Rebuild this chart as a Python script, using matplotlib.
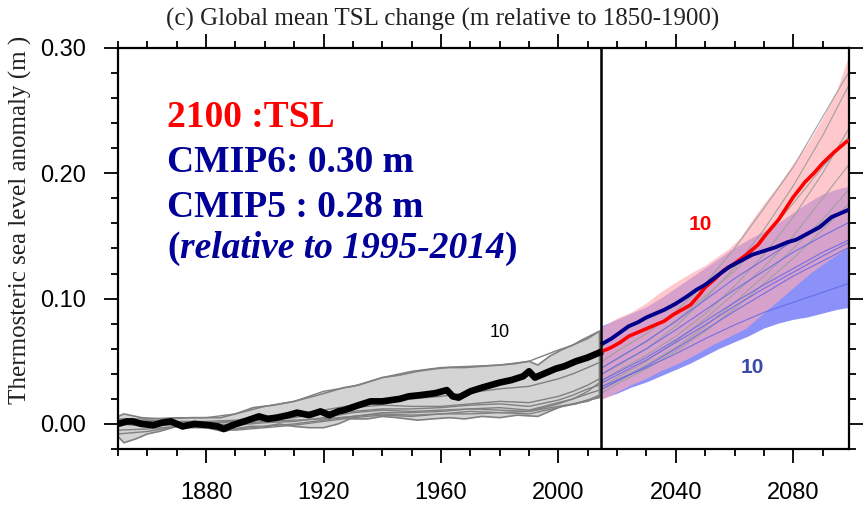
import matplotlib
matplotlib.use("Agg")
import matplotlib.pyplot as plt

# ---- historical period (1850-2014) ----
hist_mean_years = [1850, 1853, 1855, 1858, 1862, 1865, 1868, 1872, 1876, 1881, 1884, 1886,
                   1889, 1893, 1898, 1901, 1904, 1908, 1911, 1915, 1919, 1922, 1925, 1927,
                   1932, 1936, 1940, 1943, 1946, 1949, 1953, 1958, 1962, 1964, 1966, 1970,
                   1974, 1977, 1980, 1984, 1988, 1990, 1992, 1995, 1999, 2002, 2006, 2010, 2014]
hist_mean = [0.000, 0.002, 0.002, 0.000, -0.001, 0.001, 0.002, -0.002, 0.000, -0.001, -0.002, -0.004,
             -0.001, 0.002, 0.006, 0.004, 0.005, 0.007, 0.009, 0.007, 0.010, 0.007, 0.010, 0.011,
             0.015, 0.018, 0.018, 0.019, 0.020, 0.022, 0.023, 0.0245, 0.027, 0.022, 0.021, 0.026,
             0.029, 0.031, 0.033, 0.035, 0.038, 0.042, 0.037, 0.040, 0.044, 0.046, 0.050, 0.053, 0.057]

hist_hi_years = [1850, 1852, 1858, 1865, 1875, 1885, 1890, 1896, 1903, 1910, 1918, 1927, 1932,
                 1940, 1946, 1952, 1958, 1963, 1968, 1974, 1980, 1985, 1990, 1993, 1997, 2001,
                 2005, 2008, 2014]
hist_hi = [0.006, 0.008, 0.005, 0.004, 0.005, 0.005, 0.008, 0.013, 0.015, 0.018, 0.023, 0.029, 0.031,
           0.037, 0.039, 0.042, 0.044, 0.045, 0.045, 0.046, 0.047, 0.048, 0.050, 0.047, 0.054, 0.059,
           0.063, 0.067, 0.074]

hist_lo_years = [1850, 1852, 1856, 1860, 1864, 1870, 1875, 1880, 1886, 1890, 1895, 1900, 1905,
                 1910, 1915, 1920, 1925, 1929, 1935, 1940, 1945, 1952, 1957, 1963, 1968, 1974,
                 1980, 1986, 1993, 1997, 2001, 2006, 2010, 2014]
hist_lo = [-0.010, -0.015, -0.012, -0.008, -0.006, -0.002, -0.003, -0.003, -0.006, -0.004, -0.002,
           -0.002, 0.000, -0.002, -0.003, -0.003, 0.000, 0.004, 0.004, 0.006, 0.005, 0.003, 0.004,
           0.005, 0.004, 0.006, 0.005, 0.007, 0.006, 0.010, 0.014, 0.016, 0.019, 0.021]

hist_model_years = [1850, 1860, 1870, 1880, 1890, 1900, 1910, 1920, 1930, 1940, 1950, 1960,
                    1970, 1980, 1990, 2000, 2005, 2010, 2014]
hist_models = [
    [0.000, -0.002, 0.000, -0.001, 0.000, 0.002, 0.003, 0.004, 0.006, 0.008, 0.007, 0.008, 0.008, 0.009, 0.010, 0.014, 0.016, 0.018, 0.022],
    [0.000, 0.001, 0.001, 0.000, -0.001, 0.001, 0.002, 0.005, 0.009, 0.011, 0.010, 0.011, 0.012, 0.013, 0.011, 0.017, 0.020, 0.024, 0.027],
    [0.002, 0.000, -0.001, 0.001, 0.002, 0.004, 0.006, 0.008, 0.010, 0.012, 0.012, 0.013, 0.015, 0.016, 0.014, 0.019, 0.023, 0.028, 0.031],
    [-0.005, -0.004, -0.002, -0.002, -0.004, -0.002, 0.000, 0.003, 0.006, 0.009, 0.009, 0.010, 0.012, 0.011, 0.010, 0.016, 0.020, 0.026, 0.033],
    [0.003, 0.002, 0.001, 0.000, 0.002, 0.003, 0.005, 0.009, 0.013, 0.015, 0.014, 0.014, 0.016, 0.018, 0.017, 0.022, 0.026, 0.031, 0.036],
    [0.004, 0.004, 0.005, 0.005, 0.008, 0.014, 0.018, 0.026, 0.030, 0.037, 0.042, 0.045, 0.046, 0.047, 0.050, 0.059, 0.063, 0.068, 0.074],
    [-0.008, -0.006, -0.002, -0.003, -0.005, -0.003, -0.001, 0.002, 0.005, 0.007, 0.006, 0.008, 0.010, 0.009, 0.008, 0.013, 0.016, 0.019, 0.023],
    [0.001, 0.003, 0.002, 0.002, 0.003, 0.006, 0.008, 0.011, 0.015, 0.019, 0.020, 0.022, 0.025, 0.028, 0.030, 0.036, 0.040, 0.045, 0.049],
]

# ---- projections (2015-2100) ----
cmip6_years = [2015, 2018, 2021, 2024, 2027, 2030, 2033, 2036, 2039, 2042, 2045, 2048, 2050, 2053,
               2056, 2060, 2064, 2068, 2071, 2075, 2080, 2084, 2087, 2090, 2094, 2098, 2100]
cmip6_mean = [0.058, 0.061, 0.065, 0.070, 0.073, 0.076, 0.079, 0.082, 0.087, 0.091, 0.095, 0.103, 0.109,
              0.115, 0.122, 0.128, 0.135, 0.143, 0.152, 0.163, 0.181, 0.193, 0.200, 0.208, 0.217, 0.225, 0.227]

cmip5_years = [2015, 2018, 2021, 2024, 2027, 2030, 2033, 2036, 2040, 2044, 2047, 2050, 2054, 2058,
               2062, 2066, 2070, 2074, 2078, 2081, 2085, 2089, 2093, 2096, 2099]
cmip5_mean = [0.064, 0.068, 0.073, 0.078, 0.081, 0.085, 0.088, 0.091, 0.096, 0.102, 0.107, 0.111, 0.118,
              0.125, 0.130, 0.135, 0.138, 0.141, 0.145, 0.147, 0.152, 0.157, 0.165, 0.168, 0.171]

cmip6_hi_years = [2015, 2020, 2025, 2030, 2035, 2041, 2046, 2050, 2053, 2058, 2062, 2066, 2070,
                  2075, 2080, 2085, 2090, 2095, 2099]
cmip6_hi = [0.077, 0.084, 0.089, 0.096, 0.105, 0.114, 0.121, 0.126, 0.131, 0.139, 0.148, 0.162, 0.175,
            0.190, 0.207, 0.223, 0.243, 0.266, 0.293]
cmip6_lo_years = [2015, 2020, 2025, 2030, 2035, 2041, 2046, 2052, 2058, 2064, 2070, 2075, 2081,
                  2086, 2092, 2098, 2099]
cmip6_lo = [0.019, 0.025, 0.031, 0.036, 0.042, 0.048, 0.054, 0.062, 0.069, 0.076, 0.088, 0.098, 0.110,
            0.120, 0.130, 0.139, 0.140]

cmip5_band_years = [2015, 2020, 2025, 2030, 2035, 2040, 2045, 2050, 2055, 2060, 2065, 2070, 2075,
                    2080, 2085, 2090, 2095, 2100]
cmip5_hi = [0.078, 0.083, 0.088, 0.093, 0.100, 0.108, 0.116, 0.124, 0.132, 0.140, 0.147, 0.153, 0.160,
            0.168, 0.176, 0.183, 0.187, 0.190]
cmip5_lo = [0.020, 0.024, 0.029, 0.033, 0.038, 0.043, 0.048, 0.054, 0.060, 0.065, 0.070, 0.076, 0.080,
            0.083, 0.085, 0.088, 0.091, 0.093]

proj_model_years = [2015, 2020, 2030, 2040, 2050, 2060, 2070, 2080, 2090, 2100]
cmip6_models = [
    [0.040, 0.046, 0.060, 0.078, 0.100, 0.125, 0.155, 0.190, 0.230, 0.275],
    [0.035, 0.042, 0.055, 0.070, 0.088, 0.110, 0.135, 0.165, 0.200, 0.240],
    [0.030, 0.037, 0.050, 0.066, 0.084, 0.104, 0.125, 0.150, 0.180, 0.210],
    [0.045, 0.052, 0.066, 0.082, 0.102, 0.122, 0.148, 0.176, 0.205, 0.232],
    [0.025, 0.032, 0.044, 0.058, 0.074, 0.092, 0.112, 0.132, 0.155, 0.178],
    [0.050, 0.058, 0.072, 0.090, 0.112, 0.140, 0.172, 0.205, 0.245, 0.285],
    [0.028, 0.035, 0.047, 0.061, 0.078, 0.097, 0.118, 0.140, 0.163, 0.190],
]
cmip5_models = [
    [0.030, 0.035, 0.045, 0.056, 0.068, 0.079, 0.089, 0.097, 0.105, 0.113],
    [0.035, 0.041, 0.053, 0.067, 0.082, 0.097, 0.111, 0.124, 0.137, 0.148],
    [0.040, 0.047, 0.060, 0.075, 0.091, 0.107, 0.122, 0.137, 0.150, 0.162],
    [0.028, 0.034, 0.046, 0.060, 0.075, 0.090, 0.104, 0.118, 0.130, 0.142],
    [0.045, 0.052, 0.066, 0.082, 0.099, 0.116, 0.131, 0.146, 0.160, 0.172],
    [0.033, 0.039, 0.051, 0.065, 0.079, 0.094, 0.108, 0.121, 0.134, 0.146],
]

x_ticks = [1880, 1920, 1960, 2000, 2040, 2080]
y_ticks = [0.00, 0.10, 0.20, 0.30]

# ======================
# FIGURE
# ======================
fig = plt.figure(figsize=(8.66, 5.05), dpi=100)
ax = fig.add_axes([0.1363, 0.1109, 0.8441, 0.7941])

# historical envelope + models + ensemble mean
ax.fill(hist_hi_years + hist_lo_years[::-1], hist_hi + hist_lo[::-1],
        facecolor="#d4d4d4", edgecolor="#808080", lw=1.2, zorder=1)
for m in hist_models:
    ax.plot(hist_model_years, m, color="#808080", lw=1.0, zorder=2)
ax.plot(hist_mean_years, hist_mean, color="black", lw=4.8, zorder=4)

# projection envelopes (blue first, pink on top -> purple overlap)
ax.fill_between(cmip5_band_years, cmip5_lo, cmip5_hi, facecolor="#8c91fa",
                lw=0, zorder=1)
ax.fill(cmip6_hi_years + cmip6_lo_years[::-1], cmip6_hi + cmip6_lo[::-1],
        facecolor="#ffabb3", alpha=0.65, lw=0, zorder=1.5)
for m in cmip6_models:
    ax.plot(proj_model_years, m, color="#a0a0a0", lw=0.8, zorder=2)
for m in cmip5_models:
    ax.plot(proj_model_years, m, color="#5a64e6", lw=0.8, alpha=0.8, zorder=2)
ax.plot(cmip6_years, cmip6_mean, color="red", lw=2.6, zorder=5)
ax.plot(cmip5_years, cmip5_mean, color="#00008b", lw=2.8, zorder=5)

ax.axvline(2014.5, color="black", lw=1.8, zorder=6)

# axes
ax.set_xlim(1850, 2099)
ax.set_ylim(-0.02, 0.30)
ax.set_xticks(x_ticks)
ax.set_xticks(range(1850, 2100, 10), minor=True)
ax.set_yticks(y_ticks)
ax.set_yticks([v / 100 for v in range(-2, 31, 2)], minor=True)
ax.set_yticklabels(["%.2f" % v for v in y_ticks])
ax.tick_params(which="both", direction="out", top=True, right=True,
               labelsize=17, width=1.3)
ax.tick_params(which="major", length=10)
ax.tick_params(which="minor", length=5)
ax.tick_params(axis="x", pad=14)
ax.tick_params(axis="y", pad=13)
for lab in ax.get_xticklabels() + ax.get_yticklabels():
    lab.set_family("Liberation Sans")
for s in ax.spines.values():
    s.set_linewidth(1.6)

ax.set_ylabel("Thermosteric sea level anomaly (m )", family="Liberation Serif",
              fontsize=18, color="#222222")
ax.yaxis.set_label_coords(-0.118, 0.571)
fig.text(0.511, 0.962, "(c) Global mean TSL change (m relative to 1850-1900)",
         family="Liberation Serif", fontsize=18, color="#222222",
         ha="center", va="center")

# model counts
ax.text(1980, 0.073, "10", fontsize=13, family="Liberation Sans", ha="center", va="center")
ax.text(2048.2, 0.159, "10", fontsize=15, family="Liberation Sans", weight="bold",
        color="red", ha="center", va="center")
ax.text(2066, 0.045, "10", fontsize=15, family="Liberation Sans", weight="bold",
        color="#3a4aa8", ha="center", va="center")

# 2100 summary
navy = "#000099"
fs = 27
fig.text(167 / 866, 1 - 127 / 505, "2100 :TSL", color="red", fontsize=fs,
         family="Liberation Serif", weight="bold")
fig.text(167 / 866, 1 - 172 / 505, "CMIP6: 0.30 m", color=navy, fontsize=fs,
         family="Liberation Serif", weight="bold")
fig.text(167 / 866, 1 - 217 / 505, "CMIP5 : 0.28 m", color=navy, fontsize=fs,
         family="Liberation Serif", weight="bold")
t = fig.text(167 / 866, 1 - 258 / 505, "(", color=navy, fontsize=fs,
             family="Liberation Serif", weight="bold")
t = ax.annotate("relative to 1995-2014", xy=(1, 0), xycoords=t, va="bottom",
                color=navy, fontsize=fs, family="Liberation Serif",
                weight="bold", style="italic")
ax.annotate(")", xy=(1, 0), xycoords=t, va="bottom", color=navy, fontsize=fs,
            family="Liberation Serif", weight="bold")

fig.savefig("out.png", dpi=100)
